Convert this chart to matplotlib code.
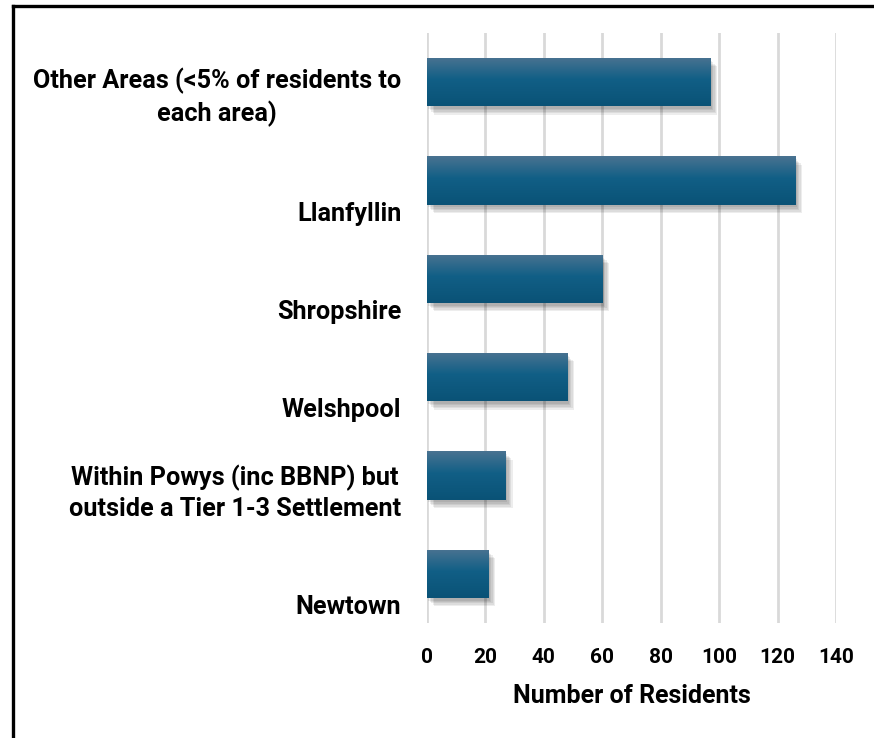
"""Residents by area - horizontal bar chart."""
import matplotlib
matplotlib.use('Agg')
import matplotlib.pyplot as plt
import matplotlib.patheffects as pe
import numpy as np
from matplotlib.colors import LinearSegmentedColormap
from matplotlib.lines import Line2D

# data, top to bottom
areas = [
    "Other Areas (<5% of residents to\neach area)",
    "Llanfyllin",
    "Shropshire",
    "Welshpool",
    "Within Powys (inc BBNP) but\noutside a Tier 1-3 Settlement",
    "Newtown",
]
residents = [97, 126, 60, 48, 27, 21]
xticks = [0, 20, 40, 60, 80, 100, 120, 140]

FONT = ['Roboto', 'DejaVu Sans']
GRID = '#d9d9d9'
grad_cmap = LinearSegmentedColormap.from_list(
    'bar', [(0.0, '#4a7391'), (0.45, '#115f86'), (1.0, '#0a5276')])

plt.rcParams.update({'font.family': FONT, 'font.weight': 'bold'})

fig = plt.figure(figsize=(8.74, 7.38), dpi=100)
ax = fig.add_axes([0.4886, 0.1558, 0.4680, 0.7995])

ypos = np.arange(len(areas))
shadow = [pe.SimplePatchShadow(offset=(d, -d - 1), shadow_rgbFace='#000000', alpha=0.07)
          for d in (1, 2, 3, 4, 5)]
bars = ax.barh(ypos, residents, height=0.49, color='#115f86', zorder=3,
               path_effects=shadow + [pe.Normal()])

# vertical gradient on each bar
grad = np.linspace(0, 1, 256).reshape(-1, 1)
for b in bars:
    x0, y0, w, h = b.get_x(), b.get_y(), b.get_width(), b.get_height()
    im = ax.imshow(grad, cmap=grad_cmap, aspect='auto', origin='upper',
                   extent=[x0, x0 + w, y0 + h, y0], zorder=4)
    im.set_clip_path(b)

ax.set_xlim(0, 140)
ax.set_ylim(len(areas) - 0.5, -0.5)
ax.set_xticks(xticks)
ax.set_xticklabels([str(t) for t in xticks], fontsize=15, fontweight='bold')
ax.tick_params(axis='x', length=0, pad=18)
ax.set_yticks([])
ax.grid(axis='x', color=GRID, linewidth=2, zorder=0)
ax.set_axisbelow(True)
for s in ax.spines.values():
    s.set_visible(False)

# category labels sit low in their band
for y, name in zip(ypos, areas):
    ax.text(-0.063, y + 0.46, name, transform=ax.get_yaxis_transform(),
            ha='right', va='bottom', multialignment='center',
            fontsize=18.2, fontweight='bold', linespacing=1.32)

ax.set_xlabel('Number of Residents', fontsize=18, fontweight='bold', labelpad=12)

# outer frame (top and left edges visible)
fig.add_artist(Line2D([13 / 874, 1], [1 - 6 / 738, 1 - 6 / 738], color='black',
                      linewidth=2.4, transform=fig.transFigure))
fig.add_artist(Line2D([13 / 874, 13 / 874], [0, 1 - 6 / 738], color='black',
                      linewidth=2.4, transform=fig.transFigure))

fig.savefig('out.png', dpi=100)
